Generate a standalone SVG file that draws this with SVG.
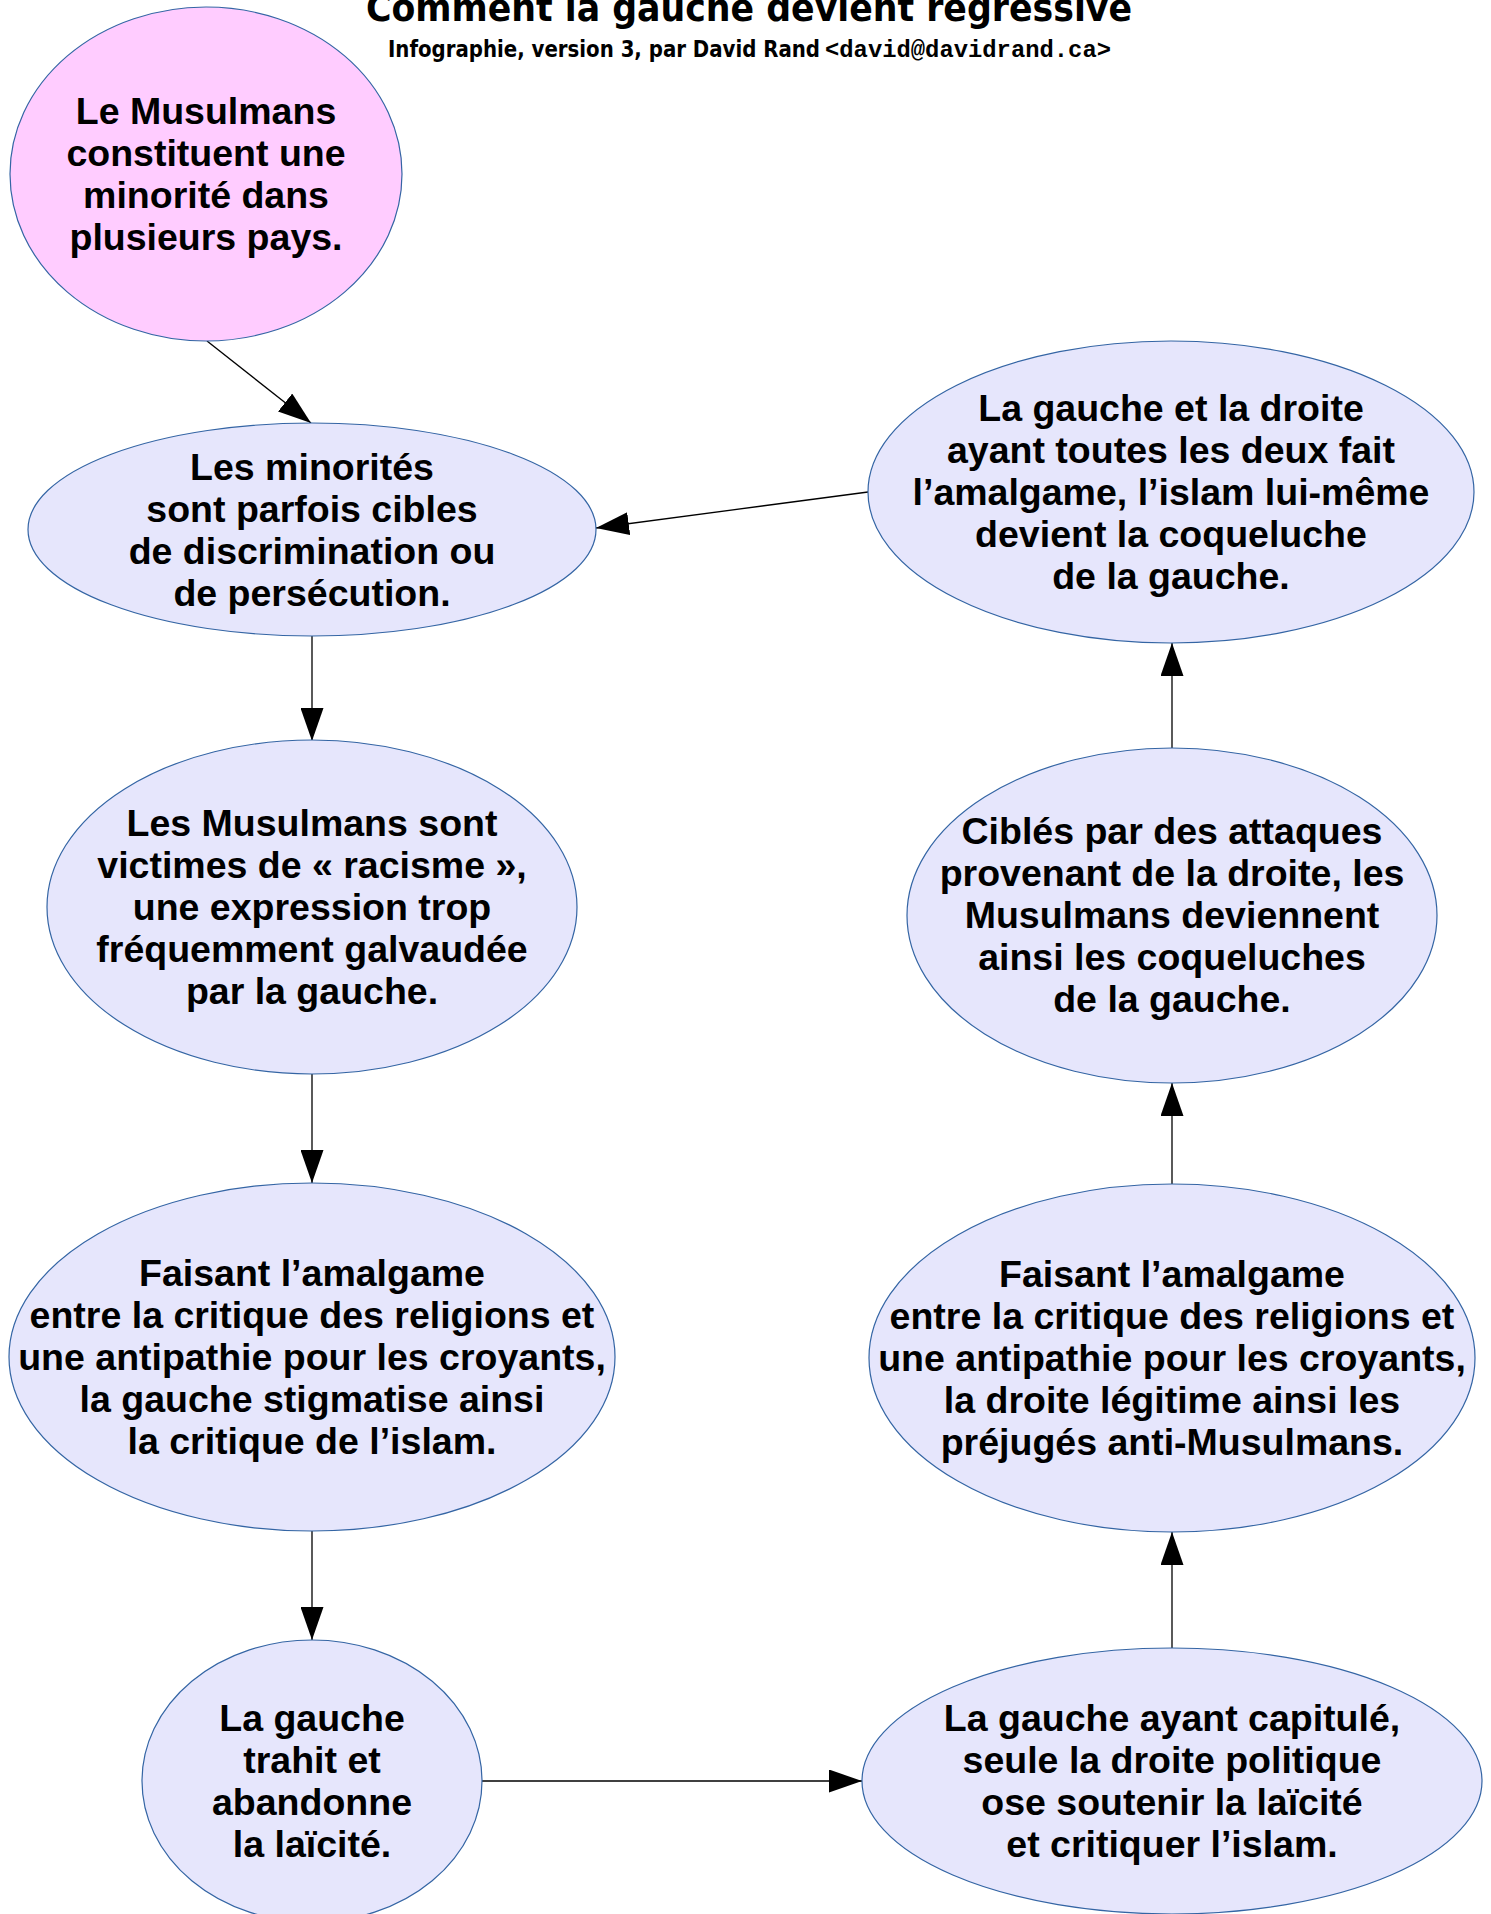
<svg xmlns="http://www.w3.org/2000/svg" width="1491" height="1914" viewBox="0 0 1491 1914">
<style>
.bg{fill:#ffffff}
.node ellipse{stroke:#3465a4;stroke-width:1.2}
.pink{fill:#ffccff}
.blue{fill:#e6e6fc}
.lbl{font-family:"Liberation Sans",Arial,sans-serif;font-weight:bold;font-size:37.5px;fill:#000;text-anchor:middle}
.edge{stroke:#000;stroke-width:1.3;fill:none;marker-end:url(#arr)}
.title{font-family:"DejaVu Sans Condensed","DejaVu Sans",sans-serif;font-weight:bold;font-size:37px;fill:#000}
.sub{font-family:"DejaVu Sans Condensed","DejaVu Sans",sans-serif;font-weight:bold;font-size:23.5px;fill:#000}
.mono{font-family:"Liberation Mono","DejaVu Sans Mono",monospace;font-weight:bold;font-size:24px;fill:#000}
</style>
<defs>
<marker id="arr" markerUnits="userSpaceOnUse" markerWidth="34" markerHeight="23" refX="33" refY="11.5" orient="auto" viewBox="0 0 34 23">
<path d="M0,0 L33,11.5 L0,23 z" fill="#000"/>
</marker>
</defs>
<rect class="bg" x="0" y="0" width="1491" height="1914"/>
<g id="title">
<text class="title" x="366" y="21" textLength="766" lengthAdjust="spacingAndGlyphs">Comment la gauche devient regressive</text>
<text class="sub" x="388" y="57" textLength="432" lengthAdjust="spacingAndGlyphs">Infographie, version 3, par David Rand</text>
<text class="mono" x="825" y="57" textLength="286" lengthAdjust="spacingAndGlyphs">&lt;david@davidrand.ca&gt;</text>
</g>
<g id="connectors">
<line class="edge" x1="207" y1="341" x2="311" y2="423"/>
<line class="edge" x1="312" y1="636" x2="312" y2="741"/>
<line class="edge" x1="312" y1="1074" x2="312" y2="1183"/>
<line class="edge" x1="312" y1="1531" x2="312" y2="1640"/>
<line class="edge" x1="482" y1="1781" x2="862" y2="1781"/>
<line class="edge" x1="1172" y1="1648" x2="1172" y2="1532"/>
<line class="edge" x1="1172" y1="1184" x2="1172" y2="1083"/>
<line class="edge" x1="1172" y1="748" x2="1172" y2="643"/>
<line class="edge" x1="868" y1="492" x2="596" y2="528"/>
</g>
<g id="n1" class="node">
<ellipse class="pink" cx="206" cy="174" rx="196" ry="167"/>
<text class="lbl"><tspan x="206" y="124">Le Musulmans</tspan><tspan x="206" y="166">constituent une</tspan><tspan x="206" y="208">minorité dans</tspan><tspan x="206" y="250">plusieurs pays.</tspan></text>
</g>
<g id="n2" class="node">
<ellipse class="blue" cx="312" cy="529.5" rx="284" ry="106.5"/>
<text class="lbl"><tspan x="312" y="480">Les minorités</tspan><tspan x="312" y="522">sont parfois cibles</tspan><tspan x="312" y="564">de discrimination ou</tspan><tspan x="312" y="606">de persécution.</tspan></text>
</g>
<g id="n3" class="node">
<ellipse class="blue" cx="312" cy="907" rx="265" ry="167"/>
<text class="lbl"><tspan x="312" y="836">Les Musulmans sont</tspan><tspan x="312" y="878">victimes de « racisme »,</tspan><tspan x="312" y="920">une expression trop</tspan><tspan x="312" y="962">fréquemment galvaudée</tspan><tspan x="312" y="1004">par la gauche.</tspan></text>
</g>
<g id="n4" class="node">
<ellipse class="blue" cx="312" cy="1357" rx="303" ry="174"/>
<text class="lbl"><tspan x="312" y="1286">Faisant l’amalgame</tspan><tspan x="312" y="1328">entre la critique des religions et</tspan><tspan x="312" y="1370">une antipathie pour les croyants,</tspan><tspan x="312" y="1412">la gauche stigmatise ainsi</tspan><tspan x="312" y="1454">la critique de l’islam.</tspan></text>
</g>
<g id="n5" class="node">
<ellipse class="blue" cx="312" cy="1781" rx="170" ry="141"/>
<text class="lbl"><tspan x="312" y="1731">La gauche</tspan><tspan x="312" y="1773">trahit et</tspan><tspan x="312" y="1815">abandonne</tspan><tspan x="312" y="1857">la laïcité.</tspan></text>
</g>
<g id="n6" class="node">
<ellipse class="blue" cx="1172" cy="1781" rx="310" ry="133"/>
<text class="lbl"><tspan x="1172" y="1731">La gauche ayant capitulé,</tspan><tspan x="1172" y="1773">seule la droite politique</tspan><tspan x="1172" y="1815">ose soutenir la laïcité</tspan><tspan x="1172" y="1857">et critiquer l’islam.</tspan></text>
</g>
<g id="n7" class="node">
<ellipse class="blue" cx="1172" cy="1358" rx="303" ry="174"/>
<text class="lbl"><tspan x="1172" y="1287">Faisant l’amalgame</tspan><tspan x="1172" y="1329">entre la critique des religions et</tspan><tspan x="1172" y="1371">une antipathie pour les croyants,</tspan><tspan x="1172" y="1413">la droite légitime ainsi les</tspan><tspan x="1172" y="1455">préjugés anti-Musulmans.</tspan></text>
</g>
<g id="n8" class="node">
<ellipse class="blue" cx="1172" cy="915.5" rx="265" ry="167.5"/>
<text class="lbl"><tspan x="1172" y="844">Ciblés par des attaques</tspan><tspan x="1172" y="886">provenant de la droite, les</tspan><tspan x="1172" y="928">Musulmans deviennent</tspan><tspan x="1172" y="970">ainsi les coqueluches</tspan><tspan x="1172" y="1012">de la gauche.</tspan></text>
</g>
<g id="n9" class="node">
<ellipse class="blue" cx="1171" cy="492" rx="303" ry="151"/>
<text class="lbl"><tspan x="1171" y="421">La gauche et la droite</tspan><tspan x="1171" y="463">ayant toutes les deux fait</tspan><tspan x="1171" y="505">l’amalgame, l’islam lui-même</tspan><tspan x="1171" y="547">devient la coqueluche</tspan><tspan x="1171" y="589">de la gauche.</tspan></text>
</g>
</svg>
